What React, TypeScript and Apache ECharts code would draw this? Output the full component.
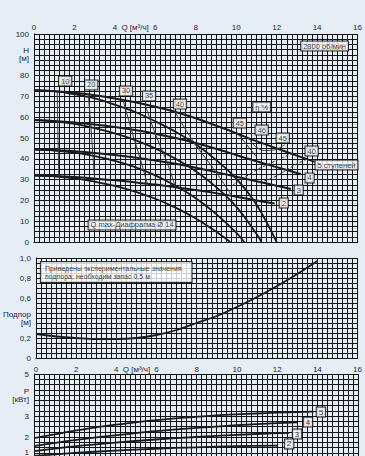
import React, { useEffect, useRef } from 'react';
import * as echarts from 'echarts';

// ---------- data ----------
// H-Q curves (normal), per number of stages
const hq5 = [[0,73],[1,72.5],[2,71.7],[3,70.5],[4,69],[5,67.2],[6,65],[7,62.5],[8,59.5],[9,56],[10,52.3],[11,48.5],[12,45],[13,41.5],[13.9,38.5]];
const hq4 = [[0,58.6],[1,58.2],[2,57.5],[3,56.5],[4,55.3],[5,53.8],[6,52],[7,50],[8,47.6],[9,44.8],[10,41.8],[11,38.8],[12,36],[13,33.2],[13.2,32.7]];
const hq3 = [[0,44.5],[1,44.2],[2,43.6],[3,42.8],[4,41.8],[5,40.6],[6,39.2],[7,37.6],[8,35.7],[9,33.6],[10,31.4],[11,29.2],[12,27],[12.7,25.5]];
const hq2 = [[0,32],[1,31.7],[2,31.2],[3,30.5],[4,29.7],[5,28.7],[6,27.6],[7,26.3],[8,25],[9,23.5],[10,21.8],[11,20],[11.9,18.5]];
// H-Q curves with diaphragm Ø14
const dq5 = [[0,73],[1,72.5],[2,71],[3,69],[4,66],[5,62.5],[6,58],[7,53],[8,47],[9,39.5],[10,30.5],[11,18],[12,0]];
const dq4 = [[0,58.6],[1,58],[2,56.8],[3,54.8],[4,52.2],[5,49],[6,45],[7,40],[8,34],[9,26.5],[10,17],[11,4],[11.25,0]];
const dq3 = [[0,44.5],[1,44],[2,43],[3,41.3],[4,39],[5,36],[6,32],[7,27],[8,21],[9,13.5],[10,4.5],[10.4,0]];
const dq2 = [[0,32],[1,31.6],[2,30.6],[3,29],[4,27],[5,24.2],[6,20.8],[7,16.5],[8,11.3],[9,5],[9.7,0]];
// iso-efficiency lines
const eff10 = [[1.15,72.6],[1.17,58.3],[1.2,44.2],[1.22,31.7]];
const eff20 = [[2.68,71],[2.8,57.6],[2.9,43.2],[3.0,30.5]];
const eff30 = [[4.4,68.5],[4.8,54.5],[5.24,40.3],[5.6,28.2]];
const eff35 = [[5.49,66.1],[6.0,52],[6.58,38.3],[7.0,26.3]];
const eff40 = [[6.97,62.6],[7.9,48],[9.0,33.6],[9.8,22]];
const eff45 = [[10.05,52.5],[10.5,47],[11.0,41]];
const eff46 = [[10.6,50],[10.95,46],[11.4,44],[11.9,44.3],[12.4,46.8]];
const eff45r = [[12.8,42.8],[11.9,38.8],[11.0,34.6],[9.84,27.4]];
const eff40r = [[13.5,39.8],[12.9,37],[11.8,30.8],[11.0,28.4]];
// annotation labels (top chart)
const topLabels = [
  { name: '10', value: [1.54, 77.4] },
  { name: '20', value: [2.83, 75.5] },
  { name: '30', value: [4.55, 72.6] },
  { name: '35', value: [5.69, 70.2] },
  { name: '40', value: [7.22, 66.3] },
  { name: '45', value: [10.18, 57.2] },
  { name: 'η %', value: [11.26, 64.9] },
  { name: '46', value: [11.26, 53.8] },
  { name: '45', value: [12.3, 50] },
  { name: '40', value: [13.73, 43.75] },
  { name: '5 ступеней', value: [14.96, 37] },
  { name: '4', value: [13.63, 30.8] },
  { name: '3', value: [13.09, 25] },
  { name: '2', value: [12.35, 18.75] },
  { name: '2800 об/мин', value: [14.37, 94.2] },
  { name: 'Q max-Диафрагма Ø 14', value: [4.85, 8.2] },
];
// NPSH
const npsh = [[0,0.24],[1,0.215],[2,0.2],[3,0.19],[4,0.19],[5,0.2],[6,0.23],[7,0.28],[8,0.35],[9,0.42],[10,0.51],[11,0.61],[12,0.72],[13,0.84],[14,0.97]];
const npshNote = 'Приведены экспериментальные значения\nподпора; необходим запас 0,5 м';
// Power
const p5 = [[0,1.95],[1,2.12],[2,2.3],[3,2.45],[4,2.58],[5,2.7],[6,2.8],[7,2.89],[8,2.96],[9,3.03],[10,3.08],[11,3.12],[12,3.16],[13,3.19],[13.8,3.21]];
const p4 = [[0,1.57],[2,1.85],[4,2.08],[6,2.28],[8,2.43],[10,2.56],[12,2.66],[13,2.7]];
const p3 = [[0,1.33],[2,1.55],[4,1.73],[6,1.88],[8,2.0],[10,2.1],[12,2.18],[12.6,2.2]];
const p2 = [[0,1.1],[2,1.24],[4,1.35],[6,1.44],[8,1.51],[10,1.56],[12,1.59]];
const powerLabels = [
  { name: '5', value: [14.17, 3.19] },
  { name: '4', value: [13.53, 2.71] },
  { name: '3', value: [12.99, 2.14] },
  { name: '2', value: [12.6, 1.67] },
];
const qAxisTitle = 'Q [м³/ч]';

// ---------- styles ----------
const FONT = 'Liberation Sans, Arial, sans-serif';
const TXT = '#1c2340';
const GRIDC = '#141414';

const qFormatter = (v: number) => {
  const r = Math.round(v * 4) / 4;
  if (r === 5) return qAxisTitle;
  if (Number.isInteger(r) && r % 2 === 0) return String(r);
  return '';
};

export default function App() {
  const ref = useRef<HTMLDivElement>(null);
  useEffect(() => {
    if (!ref.current) return;
    const chart = echarts.init(ref.current, null, { renderer: 'svg' });
    const xBase = (idx: number) => ({
      type: 'value', gridIndex: idx, min: 0, max: 16, interval: 0.25,
      axisTick: { show: false },
      axisLine: { show: true, lineStyle: { color: GRIDC, width: 1 } },
      splitLine: { show: true, lineStyle: { color: GRIDC, width: 1 } },
    });
    const line = (data: number[][], gi: number, w = 2, dashed = false, color = '#1a1a1a') => ({
      type: 'line', xAxisIndex: gi, yAxisIndex: gi, data, smooth: 0.35, showSymbol: false, silent: true,
      lineStyle: { color, width: w, type: dashed ? [3, 2] : 'solid' }, z: 3,
    });
    const labelSeries = (data: any[], gi: number, fs = 8) => ({
      type: 'scatter', xAxisIndex: gi, yAxisIndex: gi, data, symbolSize: 1, silent: true,
      itemStyle: { color: 'rgba(0,0,0,0)' }, z: 6,
      label: {
        show: true, position: 'inside', formatter: '{b}', color: '#000', fontSize: fs, fontFamily: FONT,
        backgroundColor: '#fff', borderColor: '#000', borderWidth: 1, padding: [1, 2, 0, 2],
      },
    });
    chart.setOption({
      animation: false,
      backgroundColor: '#e7edf5',
      grid: [
        { left: 34, right: 7, top: 34, height: 208 },
        { left: 34, right: 7, top: 258, height: 100 },
        { left: 34, right: 7, top: 374, height: 105 },
      ],
      xAxis: [
        { ...xBase(0), position: 'top', axisLabel: { show: true, formatter: qFormatter, color: TXT, fontSize: 8, fontFamily: FONT, margin: 3 } },
        { ...xBase(1), position: 'bottom', axisLabel: { show: true, formatter: qFormatter, color: TXT, fontSize: 8, fontFamily: FONT, margin: 7 } },
        { ...xBase(2), position: 'bottom', axisLabel: { show: false } },
      ],
      yAxis: [
        {
          type: 'value', gridIndex: 0, min: 0, max: 100, interval: 2.5,
          axisTick: { show: false }, axisLine: { show: true, lineStyle: { color: GRIDC } },
          splitLine: { show: true, lineStyle: { color: GRIDC, width: 1 } },
          axisLabel: {
            color: TXT, fontSize: 8, fontFamily: FONT, margin: 5, lineHeight: 8,
            formatter: (v: number) => { const r = Math.round(v * 10) / 10; if (r === 90) return 'H\n[м]'; return r % 10 === 0 ? String(r) : ''; },
          },
        },
        {
          type: 'value', gridIndex: 1, min: 0, max: 1, interval: 0.05,
          axisTick: { show: false }, axisLine: { show: true, lineStyle: { color: GRIDC } },
          splitLine: { show: true, lineStyle: { color: GRIDC, width: 1 } },
          axisLabel: {
            color: TXT, fontSize: 8, fontFamily: FONT, margin: 5, lineHeight: 8,
            formatter: (v: number) => {
              const r = Math.round(v * 100);
              if (r === 40) return 'Подпор\n[м]';
              if (r === 0) return '0';
              if (r % 20 === 0) return (r / 100).toFixed(1).replace('.', ',');
              return '';
            },
          },
        },
        {
          type: 'value', gridIndex: 2, min: 0, max: 5, interval: 0.25,
          axisTick: { show: false }, axisLine: { show: true, lineStyle: { color: GRIDC } },
          splitLine: { show: true, lineStyle: { color: GRIDC, width: 1 } },
          axisLabel: {
            color: TXT, fontSize: 8, fontFamily: FONT, margin: 5, lineHeight: 8,
            formatter: (v: number) => {
              const r = Math.round(v * 4) / 4;
              if (r === 4) return 'P\n[кВт]';
              if (r === 1) return '{lo|1}';
              if (r === 0) return '';
              return Number.isInteger(r) ? String(r) : '';
            },
            rich: { lo: { fontSize: 8, fontFamily: FONT, color: TXT, padding: [0, 0, 12, 0] } },
          },
        },
      ],
      series: [
        line(hq5, 0, 2), line(hq4, 0, 2), line(hq3, 0, 2), line(hq2, 0, 2),
        line(dq5, 0, 1.8), line(dq4, 0, 1.8), line(dq3, 0, 1.8), line(dq2, 0, 1.8),
        line(eff10, 0, 1, false, '#3a3a3a'), line(eff20, 0, 1, false, '#3a3a3a'),
        line(eff30, 0, 1, false, '#3a3a3a'), line(eff35, 0, 1, false, '#3a3a3a'),
        line(eff40, 0, 1, false, '#3a3a3a'), line(eff45, 0, 1, false, '#3a3a3a'),
        line(eff46, 0, 1, false, '#3a3a3a'), line(eff45r, 0, 1, true, '#3a3a3a'),
        line(eff40r, 0, 1, true, '#3a3a3a'),
        labelSeries(topLabels, 0, 7.5),
        line(npsh, 1, 1.8),
        {
          type: 'scatter', xAxisIndex: 1, yAxisIndex: 1, data: [{ name: npshNote, value: [3.78, 0.86] }],
          symbolSize: 1, silent: true, itemStyle: { color: 'rgba(0,0,0,0)' }, z: 6,
          label: {
            show: true, position: 'inside', formatter: '{b}', color: '#000', fontSize: 7, fontFamily: FONT, align: 'left',
            lineHeight: 8, backgroundColor: '#fff', borderColor: '#000', borderWidth: 1, padding: [2, 10, 2, 4],
            offset: [-71, 0],
          },
        },
        line(p5, 2, 1.8), line(p4, 2, 1.8), line(p3, 2, 1.8), line(p2, 2, 1.8),
        labelSeries(powerLabels, 2, 8),
      ],
    });
    return () => chart.dispose();
  }, []);
  return <div ref={ref} style={{ position: 'fixed', left: 0, top: 0, width: 365, height: 482 }} />;
}
